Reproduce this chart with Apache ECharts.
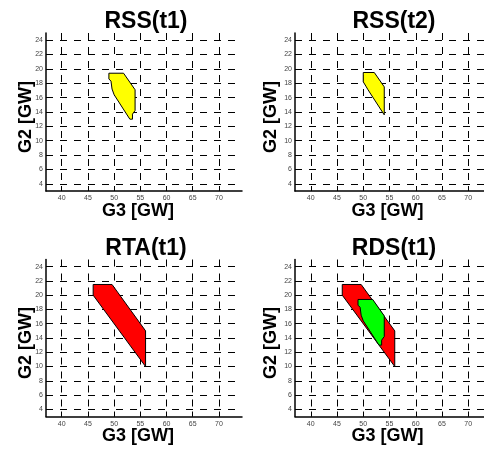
<!DOCTYPE html>
<html><head><meta charset="utf-8">
<script src="https://cdn.jsdelivr.net/npm/echarts@6/dist/echarts.min.js"></script>
<style>html,body{margin:0;padding:0;background:#fff}#c{width:484px;height:450px}</style>
</head><body><div id="c"></div>
<script>
// ---- data ----
const titles = ['RSS(t1)', 'RSS(t2)', 'RTA(t1)', 'RDS(t1)'];
const xName = 'G3 [GW]';
const yName = 'G2 [GW]';
const xTicks = [40, 45, 50, 55, 60, 65, 70];
const yTicks = [4, 6, 8, 10, 12, 14, 16, 18, 20, 22, 24];
const xMin = 37;
const xMaxLeft = 74.4;
const xMaxRight = 73;
const yMin = 3;
const yMax = 25;
// RSS(t1) region (G3, G2)
const rssT1 = [[49, 19.4], [51.8, 19.4], [54, 17.1], [54, 14.2], [53.5, 13.7], [53.5, 13], [53, 13], [50, 16.4], [49.6, 17.2], [49.4, 18.3], [49, 18.6]];
// RSS(t2) region
const rssT2 = [[50, 19.5], [52.1, 19.5], [54, 17.5], [54, 13.6], [50.9, 17.1], [50.5, 17.6], [50, 18.2]];
// RTA(t1) region
const rtaT1 = [[46, 21.5], [49.6, 21.5], [56, 15], [56, 10], [46, 20]];

// ---- layout ----
const panels = [
  {left: 46, top: 33, width: 196, height: 158, xmax: xMaxLeft, titleX: 141, titleY: 5, yGap: 10.5, xNameOff: -6},
  {left: 295, top: 33, width: 189, height: 158, xmax: xMaxRight, titleX: 389, titleY: 5, yGap: 15, xNameOff: -2},
  {left: 46, top: 259.5, width: 196, height: 157, xmax: xMaxLeft, titleX: 141, titleY: 232, yGap: 10.5, xNameOff: -6},
  {left: 295, top: 259.5, width: 189, height: 157, xmax: xMaxRight, titleX: 389, titleY: 232, yGap: 15, xNameOff: -2}
];
const FONT = 'Liberation Sans, Arial, sans-serif';
const dash = {color: '#000', width: 1, type: [7, 7], dashOffset: 0};

const grids = [], xAxes = [], yAxes = [], titleArr = [];
panels.forEach((p, i) => {
  grids.push({left: p.left, top: p.top, width: p.width, height: p.height, containLabel: false});
  titleArr.push({text: titles[i], left: p.titleX, top: p.titleY, textAlign: 'center',
    textStyle: {fontSize: 23, fontWeight: 'bold', color: '#000', fontFamily: FONT}});
  xAxes.push({
    gridIndex: i, type: 'value', min: xMin, max: p.xmax, splitNumber: 7,
    name: xName, nameLocation: 'middle', nameGap: 11, nameMoveOverlap: false,
    nameTextStyle: {fontSize: 18, fontWeight: 'bold', color: '#000', fontFamily: FONT, padding: [0, 0, 0, p.xNameOff * 2]},
    axisLine: {show: true, onZero: false, lineStyle: {color: '#000', width: 1.5}},
    axisTick: {show: true, inside: true, length: 5, customValues: xTicks, lineStyle: {color: '#000', width: 1}},
    axisLabel: {fontSize: 7, color: '#444', margin: 4, customValues: xTicks, fontFamily: FONT},
    splitLine: {show: true, lineStyle: dash}
  });
  yAxes.push({
    gridIndex: i, type: 'value', min: yMin, max: yMax, splitNumber: 11,
    name: yName, nameLocation: 'middle', nameGap: p.yGap, nameMoveOverlap: false,
    nameTextStyle: {fontSize: 18, fontWeight: 'bold', color: '#000', fontFamily: FONT, padding: [0, 0, 0, -10]},
    axisLine: {show: true, onZero: false, lineStyle: {color: '#000', width: 1.5}},
    axisTick: {show: true, inside: true, length: 5, customValues: yTicks, lineStyle: {color: '#000', width: 1}},
    axisLabel: {fontSize: 7, color: '#444', margin: 3, customValues: yTicks, fontFamily: FONT},
    splitLine: {show: true, lineStyle: dash}
  });
});

function polySeries(gi, pts, color) {
  return {
    type: 'custom', xAxisIndex: gi, yAxisIndex: gi, data: pts, silent: true, animation: false, clip: false, z: 5,
    renderItem: function (params, api) {
      if (params.dataIndex !== 0) return null;
      const points = pts.map(pt => api.coord(pt));
      return {type: 'polygon', shape: {points: points}, style: {fill: color, stroke: '#000', lineWidth: 1}};
    }
  };
}

const chart = echarts.init(document.getElementById('c'), null, {renderer: 'canvas'});
chart.setOption({
  animation: false,
  backgroundColor: '#fff',
  title: titleArr,
  grid: grids,
  xAxis: xAxes,
  yAxis: yAxes,
  series: [
    polySeries(0, rssT1, '#ffff00'),
    polySeries(1, rssT2, '#ffff00'),
    polySeries(2, rtaT1, '#ff0000'),
    polySeries(3, rtaT1, '#ff0000'),
    polySeries(3, rssT1, '#00ff00')
  ]
});
</script>
</body></html>
